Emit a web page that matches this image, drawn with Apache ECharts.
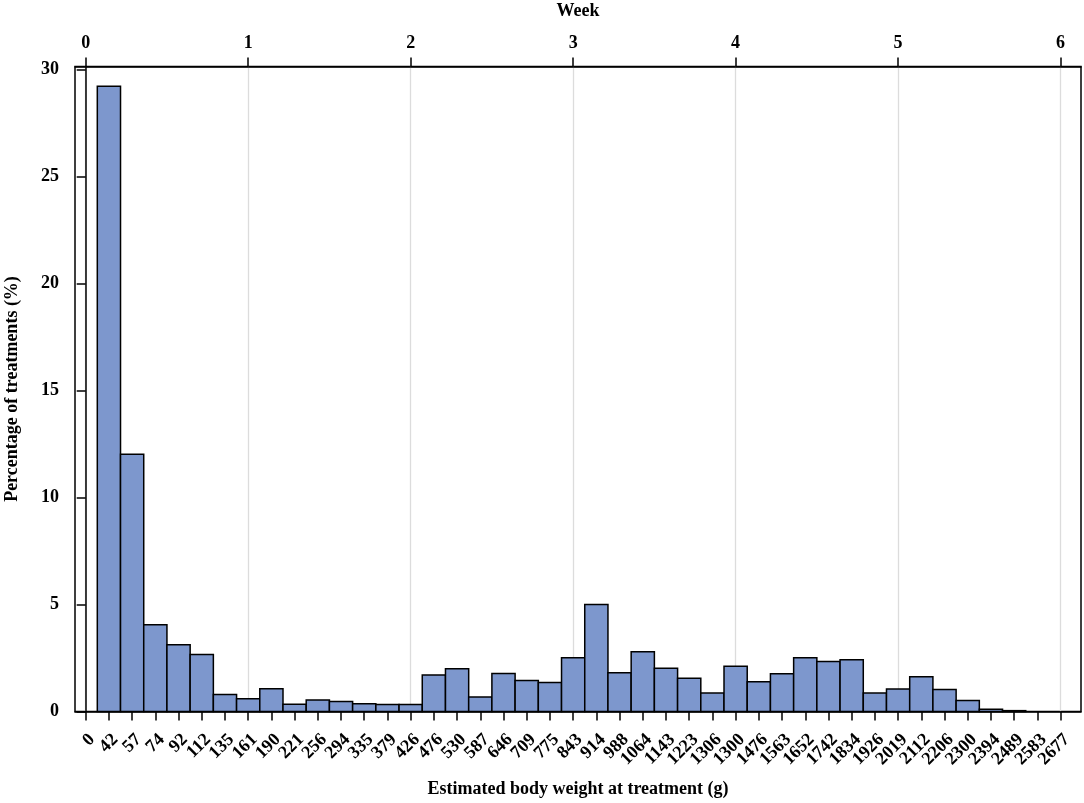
<!DOCTYPE html>
<html>
<head>
<meta charset="utf-8">
<script src="https://cdn.jsdelivr.net/npm/echarts@6/dist/echarts.min.js"></script>
<style>
html,body{margin:0;padding:0;background:#fff;}
#chart{width:1084px;height:803px;}
</style>
</head>
<body>
<div id="chart"></div>
<script>
// Category (bin) labels for estimated body weight (g)
var weightLabels = ['0','42','57','74','92','112','135','161','190','221','256','294','335','379','426','476','530','587','646','709','775','843','914','988','1064','1143','1223','1306','1300','1476','1563','1652','1742','1834','1926','2019','2112','2206','2300','2394','2489','2583','2677'];
// Percentage of treatments per bin
var percentValues = [0,29.23,12.02,4.05,3.12,2.66,0.80,0.60,1.06,0.34,0.54,0.47,0.36,0.33,0.33,1.71,2.00,0.68,1.78,1.45,1.35,2.51,5.00,1.81,2.79,2.02,1.56,0.86,2.11,1.39,1.77,2.51,2.34,2.42,0.86,1.05,1.63,1.03,0.52,0.10,0.04,0,0];
// Tick labels
var weekTicks = [0,1,2,3,4,5,6];
var yTicks = [0,5,10,15,20,25,30];

var FONT = 'Liberation Serif';
var idxTicks = weightLabels.map(function(_, i){ return i; });
var evenIdx = idxTicks.filter(function(i){ return i % 2 === 0; });
var oddIdx = idxTicks.filter(function(i){ return i % 2 === 1; });
var barData = weightLabels.map(function(_, i){ return [i, percentValues[i]]; });

var xMin = -0.461, xMax = 42.88;
var txt = {fontFamily: FONT, fontWeight: 'bold', fontSize: 18, color: '#000'};

function labelAxis(vals){
  return {
    type: 'value', position: 'bottom', min: xMin, max: xMax,
    axisLine: {show: false}, axisTick: {show: false}, splitLine: {show: false},
    axisLabel: {show: true, customValues: vals, rotate: 45, align: 'right', verticalAlign: 'top', margin: 19,
      showMinLabel: true, showMaxLabel: true, hideOverlap: false,
      fontFamily: FONT, fontWeight: 'bold', fontSize: 18, color: '#000',
      formatter: function(v){ return weightLabels[Math.round(v)]; }}
  };
}

var chart = echarts.init(document.getElementById('chart'));
chart.setOption({
  animation: false,
  backgroundColor: '#fff',
  grid: {left: 75, right: 3, top: 66.5, bottom: 91.5, show: true, borderColor: '#000', borderWidth: 1.5,
         backgroundColor: 'transparent', containLabel: false, outerBoundsMode: 'none'},
  xAxis: [{
    type: 'value', position: 'bottom', min: xMin, max: xMax,
    name: 'Estimated body weight at treatment (g)', nameLocation: 'middle', nameGap: 69,
    nameTextStyle: txt,
    axisLine: {show: true, lineStyle: {color: '#000', width: 1.5}},
    axisTick: {show: true, length: 9, customValues: idxTicks, lineStyle: {color: '#000', width: 1.5}},
    axisLabel: {show: false},
    splitLine: {show: false}
  }, {
    type: 'value', position: 'top', min: xMin / 7, max: xMax / 7,
    name: 'Week', nameLocation: 'middle', nameGap: 46,
    nameTextStyle: txt,
    axisLine: {show: true, lineStyle: {color: '#000', width: 1.5}},
    axisTick: {show: true, length: 9, customValues: weekTicks, lineStyle: {color: '#000', width: 1.5}},
    axisLabel: {show: true, customValues: weekTicks, margin: 14, showMinLabel: true, showMaxLabel: true,
      fontFamily: FONT, fontWeight: 'bold', fontSize: 18, color: '#000'},
    splitLine: {show: true, lineStyle: {color: '#dcdcdc', width: 1.3}}
  }, labelAxis(evenIdx), labelAxis(oddIdx)],
  yAxis: [{
    type: 'value', min: 0, max: 30.15,
    name: 'Percentage of treatments (%)', nameLocation: 'middle', nameGap: 54,
    nameTextStyle: txt,
    axisLine: {show: true, lineStyle: {color: '#000', width: 1.5}},
    axisTick: {show: true, length: 9, customValues: yTicks, lineStyle: {color: '#000', width: 1.5}},
    axisLabel: {show: true, customValues: yTicks, margin: 16, showMinLabel: true, showMaxLabel: true,
      fontFamily: FONT, fontWeight: 'bold', fontSize: 18, color: '#000'},
    splitLine: {show: false}
  }],
  series: [{
    type: 'custom',
    xAxisIndex: 0, yAxisIndex: 0,
    data: barData,
    encode: {x: 0, y: 1},
    renderItem: function(params, api){
      var i = api.value(0), v = api.value(1);
      if (!(v > 0)) return null;
      var p0 = api.coord([i - 0.5, v]);
      var p1 = api.coord([i + 0.5, 0]);
      return {
        type: 'rect',
        shape: {x: p0[0], y: p0[1], width: p1[0] - p0[0], height: p1[1] - p0[1]},
        style: {fill: '#7d97cd', stroke: '#000', lineWidth: 1.5}
      };
    }
  }]
});
</script>
</body>
</html>
